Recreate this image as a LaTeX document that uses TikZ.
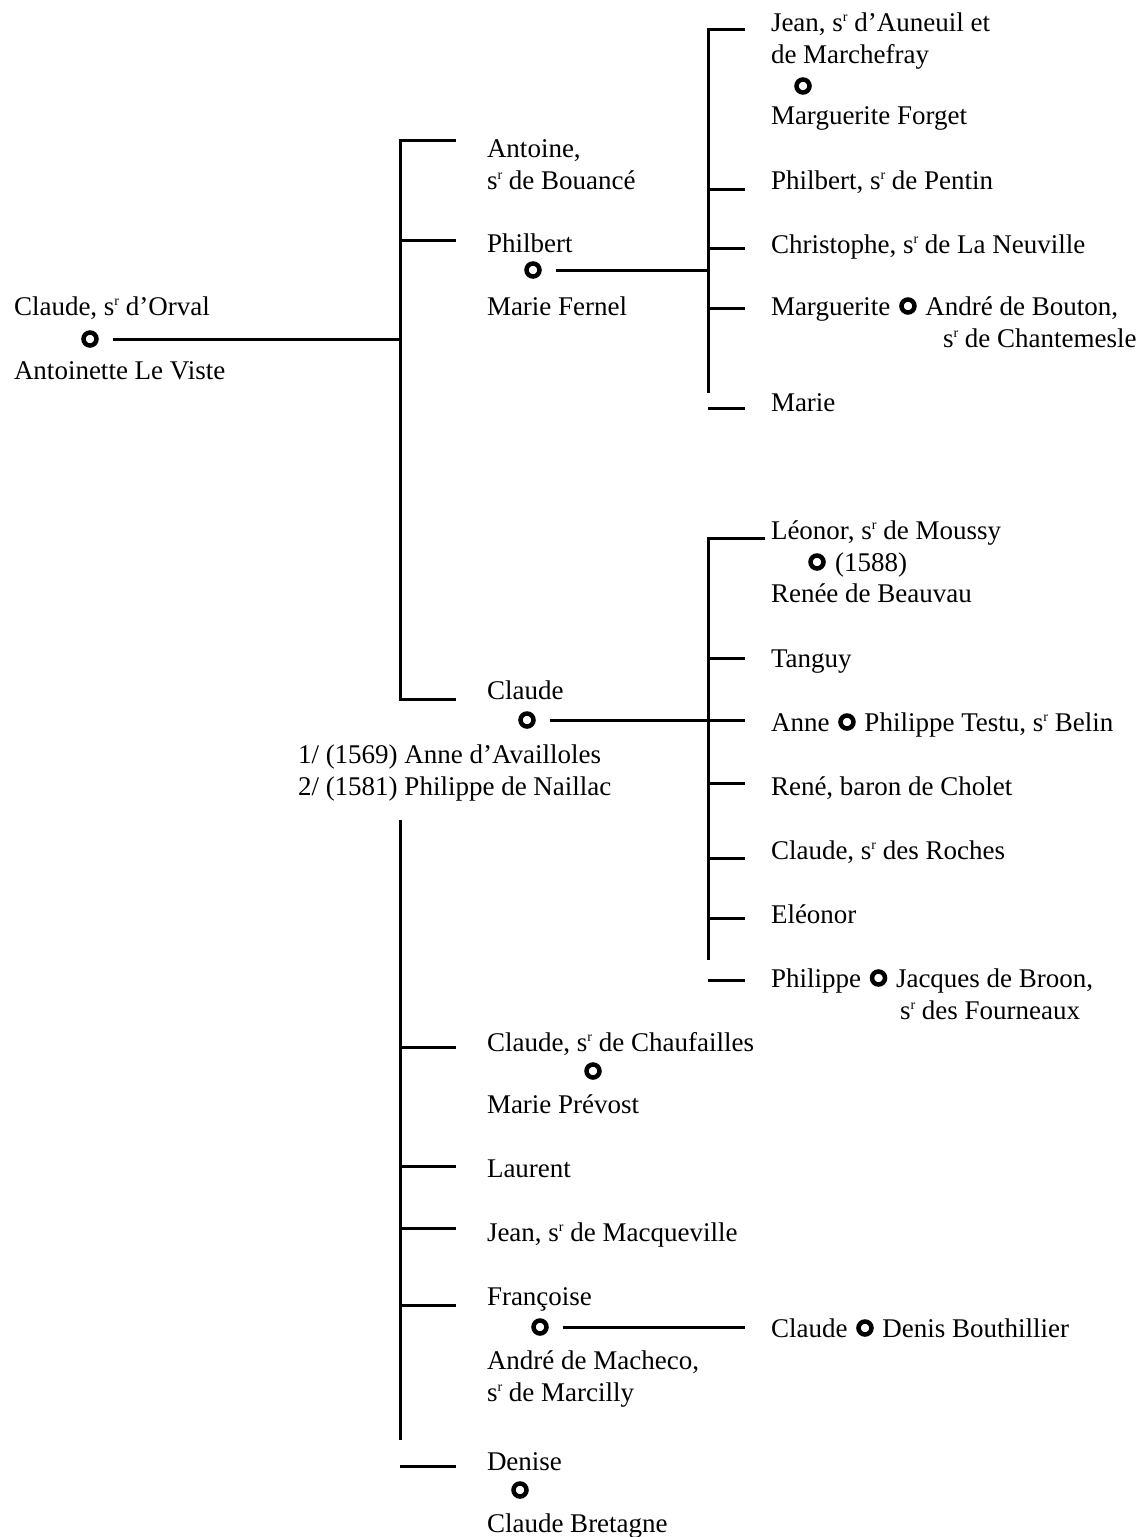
\documentclass[tikz,border=0pt]{standalone}
\usepackage{fontspec}
\setmainfont{Liberation Serif}
\usepackage{tikz}
\usetikzlibrary{positioning,calc}
\tikzset{
    person/.style = {anchor=base west, inner sep=0pt, outer sep=0pt,
        font=\fontsize{27}{32}\selectfont},
    wedring/.style = {draw, circle, line width=4.5pt,
        minimum size=13pt, inner sep=0pt, outer sep=16pt},
    tree/.style = {line width=3pt}
}
\newcommand{\sr}{s\raisebox{10pt}{\fontsize{14}{14}\selectfont r}}
\newcommand{\wed}{\hspace{2pt}\tikz[baseline={(0pt,-9pt)}]\draw[line width=4.5pt] (0pt,0pt) circle (6.5pt);\hspace{2pt}}

\begin{document}
\begin{tikzpicture}[x=1pt,y=-1pt]
        \useasboundingbox (0,0) rectangle (1143,1537);
        \node [person] (orval) at (14,315) {Claude, \sr{} d'Orval};
        \node [wedring] (wOrval) at (90,339) {};
        \node [person] (viste) at (14,379) {Antoinette Le Viste};
        \node [person] (antoine) at (487,157) {Antoine,};
        \node [person] (bouance) at (487,189) {\sr{} de Bouancé};
        \node [person] (philbert) at (487,252) {Philbert};
        \node [wedring] (wPhilbert) at (533,270) {};
        \node [person] (fernel) at (487,315) {Marie Fernel};
        \node [person] (claude) at (487,699) {Claude};
        \node [wedring] (wClaude) at (527,720) {};
        \node [person] (availloles) at (298,763) {1/ (1569) Anne d'Availloles};
        \node [person] (naillac) at (298,795) {2/ (1581) Philippe de Naillac};
        \node [person] (chaufailles) at (487,1051) {Claude, \sr{} de Chaufailles};
        \node [wedring] (wChaufailles) at (593,1071) {};
        \node [person] (prevost) at (487,1113) {Marie Prévost};
        \node [person] (laurent) at (487,1177) {Laurent};
        \node [person] (macqueville) at (487,1241) {Jean, \sr{} de Macqueville};
        \node [person] (francoise) at (487,1305) {Françoise};
        \node [wedring] (wFrancoise) at (540,1327) {};
        \node [person] (macheco) at (487,1369) {André de Macheco,};
        \node [person] (marcilly) at (487,1401) {\sr{} de Marcilly};
        \node [person] (denise) at (487,1470) {Denise};
        \node [wedring] (wDenise) at (520,1490) {};
        \node [person] (bretagne) at (487,1532) {Claude Bretagne};
        \node [person] (auneuil) at (771,31) {Jean, \sr{} d'Auneuil et};
        \node [person] (marchefray) at (771,63) {de Marchefray};
        \node [wedring] (wJean) at (803,86) {};
        \node [person] (forget) at (771,124) {Marguerite Forget};
        \node [person] (pentin) at (771,189) {Philbert, \sr{} de Pentin};
        \node [person] (neuville) at (771,253) {Christophe, \sr{} de La Neuville};
        \node [person] (bouton) at (771,315) {Marguerite \wed{} André de Bouton,};
        \node [person] (chantemesle) at (943,347) {\sr{} de Chantemesle};
        \node [person] (marie) at (771,411) {Marie};
        \node [person] (moussy) at (771,539) {Léonor, \sr{} de Moussy};
        \node [wedring] (wLeonor) at (817,562) {};
        \node [person] (y1588) at (835,571) {(1588)};
        \node [person] (beauvau) at (771,602) {Renée de Beauvau};
        \node [person] (tanguy) at (771,667) {Tanguy};
        \node [person] (testu) at (771,731) {Anne \wed{} Philippe Testu, \sr{} Belin};
        \node [person] (cholet) at (771,795) {René, baron de Cholet};
        \node [person] (roches) at (771,859) {Claude, \sr{} des Roches};
        \node [person] (eleonor) at (771,923) {Eléonor};
        \node [person] (broon) at (771,987) {Philippe \wed{} Jacques de Broon,};
        \node [person] (fourneaux) at (900,1019) {\sr{} des Fourneaux};
        \node [person] (bouthillier) at (771,1337) {Claude \wed{} Denis Bouthillier};
        \foreach \k/\y in {1/140,2/240,3/699,4/1047,5/1166,6/1228,7/1305,8/1466}{
            \coordinate (lk\k) at (400,\y);
            \coordinate (lt\k) at (456,\y);
        }
        \foreach \k/\y in {1/29,2/189,3/248,4/308,5/408,6/538,7/658,8/720,9/783,10/858,11/918,12/980}{
            \coordinate (rk\k) at (708,\y);
            \coordinate (rt\k) at (745,\y);
        }
        \coordinate (lowTop) at (400,820);
        \coordinate (lowEnd) at (400,1440);
        \coordinate (midEnd) at (708,393);
        \coordinate (botEnd) at (708,960);
        \coordinate (leoEnd) at (765,538);
        \draw[tree] (lt1) -- (lk1) -- (lk3) -- (lt3);
        \draw[tree] (lk2) -- (lt2);
        \draw[tree] (lowTop) -- (lowEnd);
        \foreach \k in {4,5,6,7,8} \draw[tree] (lk\k) -- (lt\k);
        \draw[tree] (rt1) -- (rk1) -- (midEnd);
        \foreach \k in {2,3,4,5} \draw[tree] (rk\k) -- (rt\k);
        \draw[tree] (leoEnd) -- (rk6) -- (botEnd);
        \foreach \k in {7,8,9,10,11,12} \draw[tree] (rk\k) -- (rt\k);
        \draw[tree] (wOrval) -- (wOrval -| lk1);
        \draw[tree] (wPhilbert) -- (wPhilbert -| rk1);
        \draw[tree] (wClaude) -- (wClaude -| rt8);
        \coordinate (fEnd) at (745,1327);
        \draw[tree] (wFrancoise) -- (fEnd);
\end{tikzpicture}
\end{document}
